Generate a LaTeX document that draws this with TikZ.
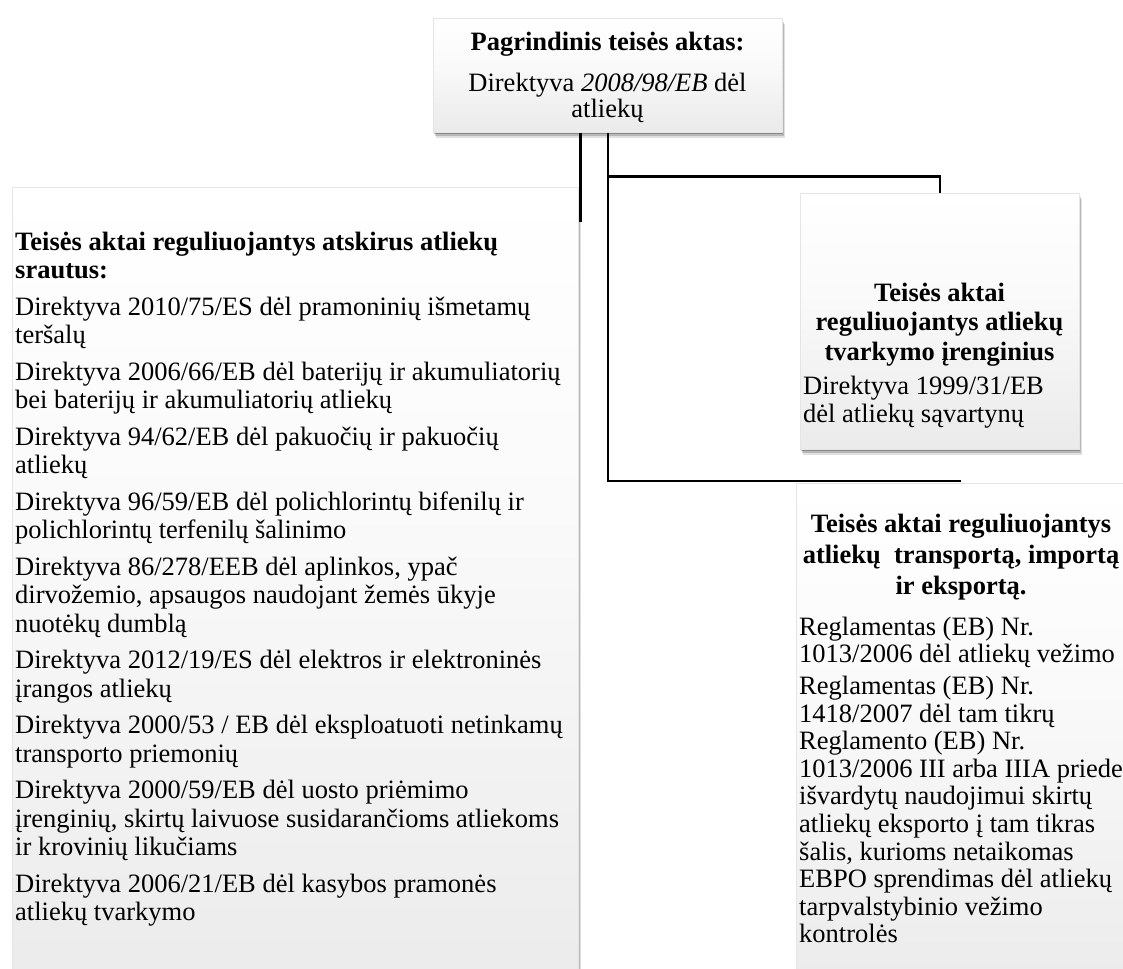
\documentclass[tikz,border=0pt]{standalone}
\usepackage{fontspec}
\setmainfont{Liberation Serif}
\usetikzlibrary{shadows}
\pgfdeclarelayer{bg}
\pgfsetlayers{bg,main}
\pgfdeclareverticalshading{boxshade}{100bp}{color(0bp)=(black!14); color(25bp)=(black!8); color(55bp)=(black!2); color(75bp)=(white); color(100bp)=(white)}
\newcommand{\fsA}{\fontsize{26.5}{28.5}\selectfont}
\newcommand{\fsB}{\fontsize{26.5}{28}\selectfont}
\newcommand{\fsF}{\fontsize{26.5}{27.6}\selectfont}
\newcommand{\fsC}{\fontsize{26.5}{26}\selectfont}
\newcommand{\fsD}{\fontsize{26.5}{29.5}\selectfont}
\newcommand{\fsE}{\fontsize{26.5}{31}\selectfont}
\newcommand{\st}{\rule{0pt}{21pt}}
\begin{document}
\begin{tikzpicture}[x=1pt,y=-1pt,
  conn/.style={draw=black, line width=2.5pt},
  box/.style={rectangle, inner sep=0pt, shading=boxshade,
    draw=black!10, line width=0.5pt,
    drop shadow={shadow xshift=2.5pt, shadow yshift=-6pt, opacity=0.12, fill=black},
    drop shadow={shadow xshift=1.5pt, shadow yshift=-4pt, opacity=0.18, fill=black},
    drop shadow={shadow xshift=0.8pt, shadow yshift=-2pt, opacity=0.25, fill=black}},
  txt/.style={inner sep=0pt, text=black},
]
\useasboundingbox (0,0) rectangle (1123,968);
\clip (0,0) rectangle (1123,968);

% boxes
\node[box, minimum width=349pt, minimum height=114pt, anchor=north west] (top) at (433,18) {};
\node[box, minimum width=566pt, minimum height=813pt, anchor=north west] (left) at (12,187) {};
\node[box, minimum width=279pt, minimum height=256pt, anchor=north west] (mid) at (800,193) {};
\node[box, minimum width=330pt, minimum height=517pt, anchor=north west] (right) at (796,483) {};

% connectors
\begin{pgfonlayer}{bg}
\draw[conn] ([xshift=-27.5pt]top.south) -- ++(0,88) -| (left.north);
\draw[conn] (top.south) |- ([yshift=2pt]right.north);
\draw[conn] ([yshift=-44pt]top.south) -| (mid.north);
\end{pgfonlayer}

% top box text
\node[txt, anchor=base, font=\fsC\bfseries] (toptitle) at (607.5,51) {Pagrindinis teisės aktas:};
\node[txt, anchor=north, align=center, font=\fsC] (toptext) at (607.5,70)
  {\st Direktyva \textit{2008/98/EB} dėl\\atliekų};

% left box text
\node[txt, anchor=north west, align=left, font=\fsA] (lefttext) at (15,229)
  {\st\textbf{Teisės aktai reguliuojantys atskirus atliekų}\\
   \textbf{srautus:}\\[8pt]
   Direktyva 2010/75/ES dėl pramoninių išmetamų\\
   teršalų\\[8pt]
   Direktyva 2006/66/EB dėl baterijų ir akumuliatorių\\
   bei baterijų ir akumuliatorių atliekų\\[8pt]
   Direktyva 94/62/EB dėl pakuočių ir pakuočių\\
   atliekų\\[8pt]
   Direktyva 96/59/EB dėl polichlorintų bifenilų ir\\
   polichlorintų terfenilų šalinimo\\[8pt]
   Direktyva 86/278/EEB dėl aplinkos, ypač\\
   dirvožemio, apsaugos naudojant žemės ūkyje\\
   nuotėkų dumblą\\[8pt]
   Direktyva 2012/19/ES dėl elektros ir elektroninės\\
   įrangos atliekų\\[8pt]
   Direktyva 2000/53 / EB dėl eksploatuoti netinkamų\\
   transporto priemonių\\[8pt]
   Direktyva 2000/59/EB dėl uosto priėmimo\\
   įrenginių, skirtų laivuose susidarančioms atliekoms\\
   ir krovinių likučiams\\[8pt]
   Direktyva 2006/21/EB dėl kasybos pramonės\\
   atliekų tvarkymo};

% middle box text
\node[txt, anchor=north, align=center, font=\fsD\bfseries] (midtitle) at (939.5,280)
  {\st Teisės aktai\\reguliuojantys atliekų\\tvarkymo įrenginius};
\node[txt, anchor=north west, align=left, font=\fsB] (midtext) at (803,373)
  {\st Direktyva 1999/31/EB\\dėl atliekų sąvartynų};

% right box text
\node[txt, anchor=north, align=center, font=\fsE\bfseries] (righttitle) at (961,511)
  {\st Teisės aktai reguliuojantys\\atliekų\ \ transportą, importą\\ir eksportą.};
\node[txt, anchor=north west, align=left, font=\fsF] (righttext) at (799,614)
  {\st Reglamentas (EB) Nr.\\
   1013/2006 dėl atliekų vežimo\\[4pt]
   Reglamentas (EB) Nr.\\
   1418/2007 dėl tam tikrų\\
   Reglamento (EB) Nr.\\
   1013/2006 III arba IIIA priede\\
   išvardytų naudojimui skirtų\\
   atliekų eksporto į tam tikras\\
   šalis, kurioms netaikomas\\
   EBPO sprendimas dėl atliekų\\
   tarpvalstybinio vežimo\\
   kontrolės};
\end{tikzpicture}
\end{document}
